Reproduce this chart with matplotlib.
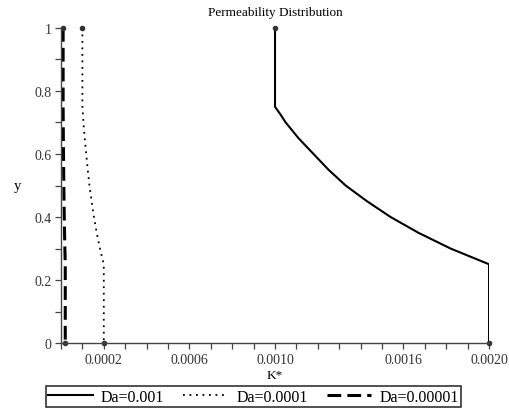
import matplotlib.pyplot as plt
import matplotlib.ticker as mticker

# permeability profiles K*(y) for three Darcy numbers
y_vals = [1.0, 0.75, 0.725, 0.70, 0.65, 0.60, 0.55, 0.50, 0.45, 0.40,
          0.35, 0.30, 0.275, 0.25, 0.0]
k_da1 = [0.001, 0.001, 0.001026, 0.00105, 0.00111, 0.00118, 0.00125, 0.00133,
         0.00143, 0.00154, 0.00167, 0.00182, 0.00191, 0.002, 0.002]
k_da2 = [0.0001, 0.0001, 0.0001026, 0.000105, 0.000111, 0.000118, 0.000125,
         0.000133, 0.000143, 0.000154, 0.000167, 0.000182, 0.000191, 0.0002, 0.0002]
k_da3 = [0.00001, 0.00001, 0.0000103, 0.0000105, 0.0000111, 0.0000118, 0.0000125,
         0.0000133, 0.0000143, 0.0000154, 0.0000167, 0.0000182, 0.0000191,
         0.00002, 0.00002]
labels = ["Da=0.001", "Da=0.0001", "Da=0.00001"]

x_ticks = [0.0002, 0.0006, 0.0010, 0.0016, 0.0020]
x_ticklabels = ["0.0002", "0.0006", "0.0010", "0.0016", "0.0020"]
y_ticks = [0, 0.2, 0.4, 0.6, 0.8, 1]
y_ticklabels = ["0", "0.2", "0.4", "0.6", "0.8", "1"]

plt.rcParams['font.family'] = ['Liberation Serif', 'DejaVu Serif']

fig = plt.figure(figsize=(5.09, 4.14), dpi=100)
ax = fig.add_axes([0.1198, 0.169, 0.841, 0.761])

ax.plot(k_da1, y_vals, color='black', lw=1.5, ls='-', label=labels[0])
ax.plot(k_da2, y_vals, color='black', lw=1.3, ls=(0, (1, 2.6)), label=labels[1])
ax.plot(k_da3, y_vals, color='black', lw=2.2, ls=(0, (4.5, 2.0)), label=labels[2])

# small end-point markers
for k in (k_da1, k_da2, k_da3):
    ax.plot([k[0], k[-1]], [y_vals[0], y_vals[-1]], ls='none', marker='o',
            ms=3, color='#333333', clip_on=False)

ax.set_xlim(0, 0.002)
ax.set_ylim(0, 1)
for side in ('top', 'right'):
    ax.spines[side].set_visible(False)
for side in ('left', 'bottom'):
    ax.spines[side].set_color('#444444')
    ax.spines[side].set_linewidth(1.0)

ax.set_xticks(x_ticks)
ax.set_xticklabels(x_ticklabels)
ax.xaxis.set_minor_locator(mticker.MultipleLocator(0.0001))
ax.set_yticks(y_ticks)
ax.set_yticklabels(y_ticklabels)
ax.yaxis.set_minor_locator(mticker.MultipleLocator(0.1))
ax.tick_params(which='both', direction='out', length=4, width=0.9,
               color='#444444', labelsize=10, labelcolor='#333333', pad=3)

ax.set_title("Permeability Distribution", fontsize=9.5, pad=9)
ax.set_xlabel("K*", fontsize=9.5, labelpad=2)
ax.set_ylabel("y", fontsize=10.5, rotation=0, labelpad=12, va='center')

leg = fig.legend(loc='lower center', bbox_to_anchor=(0.498, -0.005), ncol=3,
                 frameon=True, fancybox=False, edgecolor='black',
                 fontsize=11.5, handlelength=2.8, columnspacing=1.2,
                 borderpad=0.15, handletextpad=0.5)
leg.get_frame().set_linewidth(1.2)

fig.savefig("out.png", dpi=100)
